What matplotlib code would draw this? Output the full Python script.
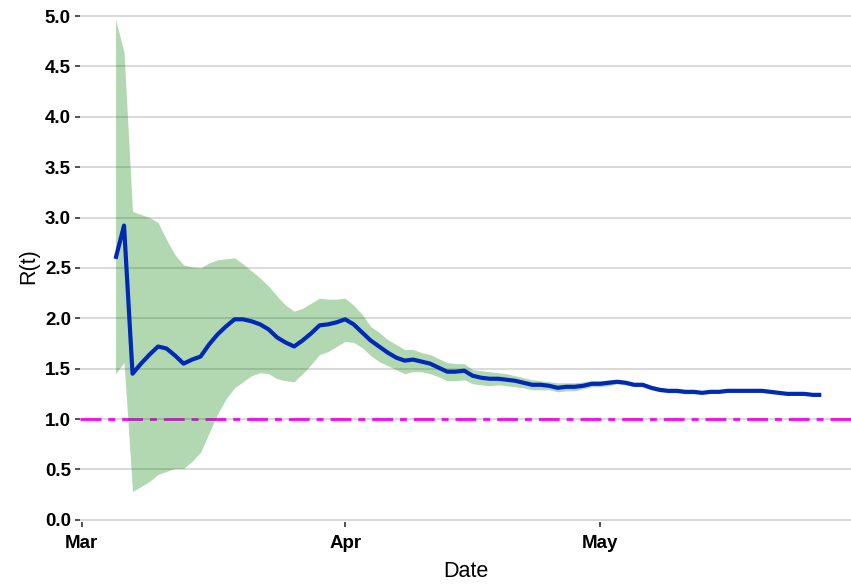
import numpy as np
import pandas as pd
import matplotlib
matplotlib.use("Agg")
import matplotlib.pyplot as plt
import matplotlib.dates as mdates

plt.rcParams['font.family'] = ['Liberation Sans', 'DejaVu Sans']

# daily estimates, 5 Mar to 27 May
dates = pd.date_range("2020-03-05", "2020-05-27", freq="D")

r_mean = [2.59, 2.92, 1.45, 1.55, 1.64, 1.72, 1.70, 1.63, 1.55, 1.59, 1.62, 1.74, 1.84,
          1.92, 1.99, 1.99, 1.97, 1.94, 1.89, 1.81, 1.76, 1.72, 1.78, 1.85, 1.93, 1.94, 1.96,
          1.99, 1.94, 1.86, 1.78, 1.72, 1.66, 1.61, 1.58, 1.59, 1.57, 1.55, 1.51, 1.47, 1.47,
          1.48, 1.43, 1.41, 1.40, 1.40, 1.39, 1.38, 1.36, 1.34, 1.34, 1.33, 1.31, 1.32, 1.32,
          1.33, 1.35,
          1.35, 1.36, 1.37, 1.36, 1.34, 1.34, 1.31, 1.29, 1.28, 1.28, 1.27, 1.27, 1.26, 1.27,
          1.27, 1.28, 1.28, 1.28, 1.28, 1.28, 1.27, 1.26, 1.25, 1.25, 1.25, 1.24, 1.24]

r_upper = [4.97, 4.64, 3.06, 3.03, 3.00, 2.95, 2.78, 2.63, 2.53, 2.51, 2.50, 2.55, 2.58,
           2.59, 2.60, 2.54, 2.47, 2.40, 2.32, 2.22, 2.13, 2.07, 2.10, 2.15, 2.20, 2.19, 2.19,
           2.20, 2.13, 2.04, 1.92, 1.86, 1.79, 1.74, 1.69, 1.69, 1.66, 1.64, 1.60, 1.56, 1.55,
           1.55, 1.49, 1.48, 1.47, 1.46, 1.45, 1.43, 1.41, 1.39, 1.38, 1.37, 1.36, 1.36, 1.36,
           1.37, 1.38,
           1.38, 1.39, 1.39, 1.38, 1.36, 1.36, 1.33, 1.31, 1.30, 1.30, 1.29, 1.28, 1.28, 1.28,
           1.28, 1.29, 1.29, 1.29, 1.29, 1.29, 1.28, 1.27, 1.26, 1.26, 1.26, 1.25, 1.25]

r_lower = [1.45, 1.56, 0.28, 0.33, 0.38, 0.45, 0.48, 0.51, 0.51, 0.58, 0.67, 0.86, 1.05,
           1.20, 1.31, 1.37, 1.43, 1.46, 1.45, 1.40, 1.38, 1.37, 1.45, 1.54, 1.64, 1.67, 1.72,
           1.77, 1.76, 1.71, 1.63, 1.57, 1.53, 1.49, 1.45, 1.47, 1.47, 1.45, 1.42, 1.38, 1.38,
           1.39, 1.35, 1.34, 1.33, 1.34, 1.33, 1.32, 1.31, 1.29, 1.29, 1.29, 1.27, 1.28, 1.28,
           1.30, 1.32,
           1.32, 1.33, 1.35, 1.34, 1.32, 1.32, 1.29, 1.27, 1.26, 1.26, 1.25, 1.25, 1.25, 1.26,
           1.26, 1.27, 1.27, 1.27, 1.27, 1.27, 1.26, 1.25, 1.24, 1.24, 1.24, 1.23, 1.23]

threshold = 1.0

fig = plt.figure(figsize=(8.51, 5.86), dpi=100)
ax = fig.add_axes([0.094, 0.109, 0.906, 0.874])

ax.axhline(threshold, color="#ff00ff", lw=2, ls=(0, (7.5, 2.5, 2.5, 2.5)), zorder=2)
ax.fill_between(dates, r_lower, r_upper, color="#008000", alpha=0.3, lw=0, zorder=3)
ax.plot(dates, r_mean, color="#0029b5", lw=3, zorder=4, solid_capstyle="butt")

ax.set_ylim(-0.023, 5.06)
ax.set_yticks(np.arange(0, 5.01, 0.5))
ax.yaxis.set_major_formatter(matplotlib.ticker.FormatStrFormatter("%.1f"))
x0 = mdates.date2num(pd.Timestamp("2020-03-01"))
ax.set_xlim(x0 - 0.18, x0 + 90.5)
ax.xaxis.set_major_locator(mdates.MonthLocator())
ax.xaxis.set_major_formatter(mdates.DateFormatter("%b"))

ax.grid(axis="y", color="#d9d9d9", lw=1.4, zorder=1)
ax.set_axisbelow(True)
for s in ax.spines.values():
    s.set_visible(False)

ax.tick_params(axis="both", colors="#333333", labelcolor="black", labelsize=13.5,
               length=3.5, width=1.2, pad=3)
ax.tick_params(axis="x", pad=6)
for lab in ax.get_xticklabels() + ax.get_yticklabels():
    lab.set_fontweight("bold")

ax.set_xlabel("Date", fontsize=15.5, labelpad=6)
ax.set_ylabel("R(t)", fontsize=15.5, labelpad=4)

fig.savefig("out.png", dpi=100)
